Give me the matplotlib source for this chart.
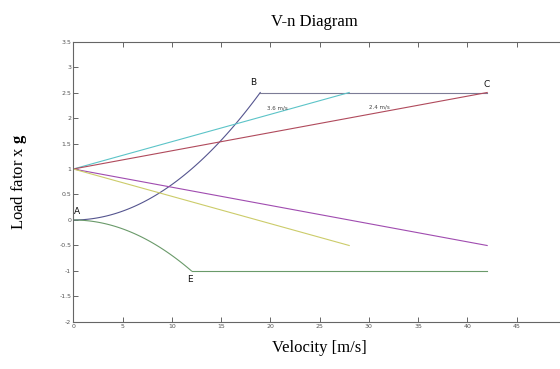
import numpy as np
import matplotlib
matplotlib.use("Agg")
import matplotlib.pyplot as plt

plt.rcParams["mathtext.fontset"] = "custom"
plt.rcParams["mathtext.bf"] = "Liberation Serif:bold"
plt.rcParams["mathtext.rm"] = "Liberation Serif"

# Data
n_max = 2.5
n_min = -1.0
vs_pos = 12.0
vs_neg = 12.0
v_e = 12.0
v_b = 18.97
v_c = 42.0
gust_36_v = [0, 28]
gust_36_up = [1, 2.5]
gust_36_dn = [1, -0.5]
gust_24_v = [0, 42]
gust_24_up = [1, 2.5]
gust_24_dn = [1, -0.5]
xticks = [0, 5, 10, 15, 20, 25, 30, 35, 40, 45]
yticks = [-2, -1.5, -1, -0.5, 0, 0.5, 1, 1.5, 2, 2.5, 3, 3.5]

fig = plt.figure(figsize=(5.6, 3.69), dpi=100)
ax = fig.add_axes([0.1309, 0.1274, 1.0107 - 0.1309, 0.8875 - 0.1274])

vpos = np.linspace(0, v_b, 80)
ax.plot(vpos, (vpos / vs_pos) ** 2, color="#55558f", lw=0.8)
ax.plot([v_b, v_c], [n_max, n_max], color="#7c7c96", lw=0.8)
vneg = np.linspace(0, v_e, 60)
ax.plot(vneg, -(vneg / vs_neg) ** 2, color="#6a9a6a", lw=0.8)
ax.plot([v_e, v_c], [n_min, n_min], color="#6a9a6a", lw=0.8)

ax.plot(gust_36_v, gust_36_up, color="#5cc4c8", lw=0.8)
ax.plot(gust_24_v, gust_24_up, color="#b04a5c", lw=0.8)
ax.plot(gust_24_v, gust_24_dn, color="#a04cb0", lw=0.8)
ax.plot(gust_36_v, gust_36_dn, color="#cccc6a", lw=0.8)

lbl = dict(fontsize=6.5, family="DejaVu Sans", color="#111111")
ax.text(0.1, 0.07, "A", ha="left", va="bottom", **lbl)
ax.text(18.3, 2.6, "B", ha="center", va="bottom", **lbl)
ax.text(41.9, 2.56, "C", ha="center", va="bottom", **lbl)
ax.text(11.8, -1.08, "E", ha="center", va="top", **lbl)
ax.text(20.7, 2.14, "3.6 m/s", fontsize=4, color="#444444", ha="center", va="bottom")
ax.text(31.1, 2.16, "2.4 m/s", fontsize=4, color="#444444", ha="center", va="bottom")

ax.set_xlim(0, 50)
ax.set_ylim(-2, 3.5)
ax.set_xticks(xticks)
ax.set_yticks(yticks)
ax.set_xticklabels([str(t) for t in xticks])
ax.set_yticklabels([f"{t:g}" for t in yticks])
ax.tick_params(direction="in", length=3.5, width=0.7, colors="#666666",
               labelsize=4.5, labelcolor="#555555", top=True, right=True, pad=1.5)
for s in ax.spines.values():
    s.set_color("#666666")
    s.set_linewidth(0.8)

ax.set_title("V-n Diagram", family="Liberation Serif", fontsize=12, pad=11, x=0.49)
ax.set_xlabel("Velocity [m/s]", family="Liberation Serif", fontsize=12, labelpad=8)
ax.set_ylabel(r"Load fator x $\mathbf{g}$", family="Liberation Serif", fontsize=12, labelpad=22)

fig.savefig("out.png", dpi=100)
